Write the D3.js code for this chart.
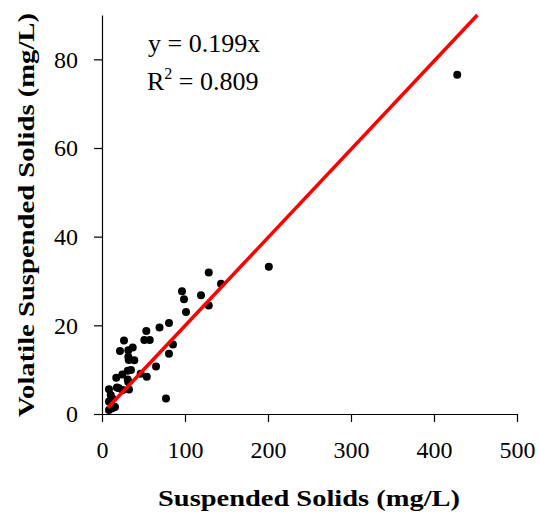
<html>
<head>
  <script src="https://d3js.org/d3.v7.min.js"></script>
  <style>
    body { margin: 0; background: #fff; }
    text { font-family: "Liberation Serif", "DejaVu Serif", serif; }
  </style>
</head>
<body>
  <script>
    // suspended solids (x) vs volatile suspended solids (y), mg/L
    var ss  = [428, 201, 128.6, 143.4, 119.3, 96.4, 98.8, 128.6, 101.2, 80.7,
               69.3, 53.4, 26.5, 51.0, 57.5, 85.5, 21.7, 31.7, 37.0, 31.7,
               80.7, 38.9, 32.2, 65.1, 31.0, 34.9, 24.5, 17.2, 46.6, 53.9,
               31.0, 31.7, 20.5, 32.5, 8.4, 10.5, 12.4, 77.1, 15.7, 8.4,
               12.4, 25, 18, 8.4];
    var vss = [76.5, 33.2, 31.9, 29.4, 26.8, 27.7, 25.9, 24.5, 23.0, 20.5,
               19.5, 18.7, 16.6, 16.7, 16.7, 15.7, 14.2, 14.4, 15.0, 12.9,
               13.6, 12.1, 12.2, 10.7, 9.75, 9.9, 8.9, 8.2, 9.1, 8.4,
               7.8, 7.2, 5.8, 5.5, 5.6, 4.3, 3.5, 3.5, 1.6, 0.9,
               1.3, 5.4, 6.0, 2.8];
    var slope = 0.199;
    var fitStart = 7;
    var xTicks = [0, 100, 200, 300, 400, 500];
    var yTicks = [0, 20, 40, 60, 80];

    var width = 540, height = 516;
    var mLeft = 102, mRight = 517, mTop = 15, mBottom = 414;

    var svg = d3.select("body").append("svg")
      .attr("width", width)
      .attr("height", height);

    var x = d3.scaleLinear().domain([0, 500]).range([mLeft, mRight]);
    var y = d3.scaleLinear().domain([0, 90]).range([mBottom, mTop]);

    var xAxis = svg.append("g")
      .attr("transform", "translate(0," + mBottom + ")")
      .call(d3.axisBottom(x).tickValues(xTicks).tickSize(8).tickPadding(19).tickSizeOuter(0));
    var yAxis = svg.append("g")
      .attr("transform", "translate(" + mLeft + ",0)")
      .call(d3.axisLeft(y).tickValues(yTicks).tickSize(8).tickPadding(16).tickSizeOuter(0));

    [xAxis, yAxis].forEach(function(a){
      a.select(".domain").attr("stroke", "#000").attr("stroke-width", 1.2);
      a.selectAll(".tick line").attr("stroke", "#000").attr("stroke-width", 1.2);
      a.selectAll(".tick text")
        .attr("fill", "#000")
        .style("font-size", "24px")
        .style("font-family", "'Liberation Serif', serif");
    });

    // points
    svg.append("g").selectAll("circle")
      .data(d3.range(ss.length))
      .enter()
      .append("circle")
      .attr("cx", function(i){ return x(ss[i]); })
      .attr("cy", function(i){ return y(vss[i]); })
      .attr("r", 4)
      .attr("fill", "#000");

    // fitted line, stops at the top of the plot
    var fitEnd = 90 / slope;
    var line = d3.line()
      .x(function(d){ return x(d); })
      .y(function(d){ return y(slope * d); });
    svg.append("path")
      .datum([fitStart, fitEnd])
      .attr("d", line)
      .attr("fill", "none")
      .attr("stroke", "#ff0000")
      .attr("stroke-width", 3.5);

    // equation
    svg.append("text")
      .attr("x", 148).attr("y", 52)
      .style("font-size", "26px")
      .text("y = 0.199x");
    var r2 = svg.append("text")
      .attr("x", 147).attr("y", 90)
      .style("font-size", "26px");
    r2.append("tspan").text("R");
    r2.append("tspan").attr("dy", -11).style("font-size", "16px").text("2");
    r2.append("tspan").attr("dy", 11).text(" = 0.809");

    // axis titles
    svg.append("text")
      .attr("x", 309).attr("y", 506)
      .attr("text-anchor", "middle")
      .attr("textLength", 302)
      .attr("lengthAdjust", "spacingAndGlyphs")
      .style("font-size", "24px")
      .style("font-weight", "bold")
      .text("Suspended Solids (mg/L)");
    svg.append("text")
      .attr("transform", "translate(34,215) rotate(-90)")
      .attr("text-anchor", "middle")
      .attr("textLength", 404)
      .attr("lengthAdjust", "spacingAndGlyphs")
      .style("font-size", "24px")
      .style("font-weight", "bold")
      .text("Volatile Suspended Solids (mg/L)");
  </script>
</body>
</html>
